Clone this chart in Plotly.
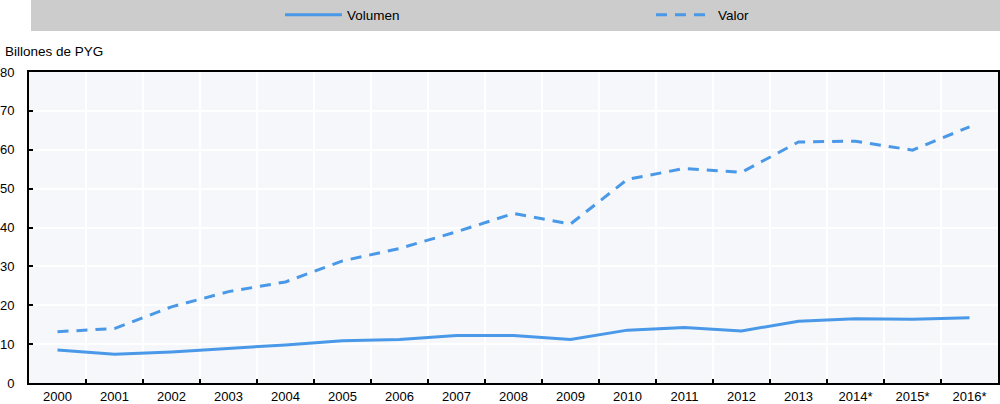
import plotly.graph_objects as go

years = ["2000", "2001", "2002", "2003", "2004", "2005", "2006", "2007", "2008",
         "2009", "2010", "2011", "2012", "2013", "2014*", "2015*", "2016*"]
volumen = [8.5, 7.4, 8.0, 8.9, 9.8, 10.9, 11.2, 12.2, 12.2,
           11.2, 13.6, 14.3, 13.4, 15.9, 16.5, 16.4, 16.8]
valor = [13.2, 14.0, 19.6, 23.5, 26.0, 31.4, 34.6, 38.9, 43.6,
         40.9, 52.4, 55.2, 54.2, 62.0, 62.2, 59.9, 65.9]
y_ticks = [0, 10, 20, 30, 40, 50, 60, 70, 80]

COLOR = "#4a98e8"
FONT = "Liberation Sans, Arial, sans-serif"
FS = 13.5

W, H = 1000, 404
L, R, T, B = 29, 2, 72, 21
pw = W - L - R
ph = H - T - B

def px_x(p):
    return (p - L) / pw

def px_y(p):
    return (H - B - p) / ph

fig = go.Figure()
fig.add_trace(go.Scatter(x=years, y=volumen, name="Volumen", mode="lines",
                         line=dict(color=COLOR, width=3), legend="legend"))
fig.add_trace(go.Scatter(x=years, y=valor, name="Valor", mode="lines",
                         line=dict(color=COLOR, width=3, dash="11px,8px"), legend="legend2"))

fig.add_shape(type="rect", xref="paper", yref="paper",
              x0=px_x(31), x1=px_x(1000), y0=px_y(31), y1=px_y(0),
              fillcolor="#cccccc", line=dict(width=0), layer="below")

fig.add_annotation(text="Billones de PYG", xref="paper", yref="paper",
                   x=px_x(3), y=px_y(51), xanchor="left", yanchor="middle",
                   showarrow=False, font=dict(family=FONT, size=FS, color="#000"))

leg_common = dict(orientation="h", yanchor="middle", xanchor="left",
                  bgcolor="rgba(0,0,0,0)", itemwidth=57,
                  font=dict(family=FONT, size=FS, color="#000"))

fig.update_layout(
    width=W, height=H,
    margin=dict(l=L, r=R, t=T, b=B, autoexpand=False),
    paper_bgcolor="white",
    plot_bgcolor="#f5f7fa",
    font=dict(family=FONT, size=FS, color="#000"),
    showlegend=True,
    legend=dict(x=px_x(280), y=px_y(15), **leg_common),
    legend2=dict(x=px_x(651), y=px_y(15), **leg_common),
    xaxis=dict(type="category", tickson="boundaries", showgrid=True,
               gridcolor="white", gridwidth=1.5,
               ticks="inside", ticklen=4, tickcolor="black", tickwidth=1.5,
               showline=True, linecolor="black", linewidth=2, mirror=True,
               range=[-0.5, 16.5], ticklabelstandoff=0, automargin=False,
               tickfont=dict(size=13)),
    yaxis=dict(range=[0, 80], tickvals=y_ticks, showgrid=True,
               gridcolor="white", gridwidth=1.5,
               ticks="inside", ticklen=4, tickcolor="black", tickwidth=1.5,
               showline=True, linecolor="black", linewidth=2, mirror=True,
               zeroline=False, ticklabelstandoff=10, automargin=False,
               tickfont=dict(size=13)),
)

fig.write_html("out.html")
